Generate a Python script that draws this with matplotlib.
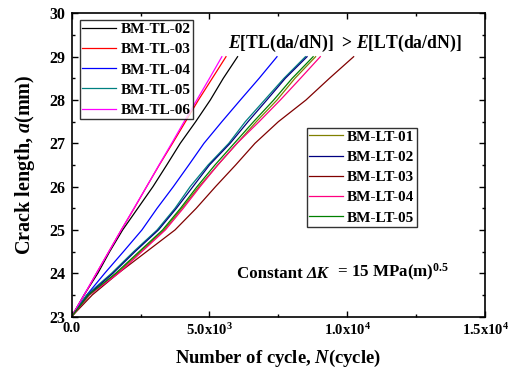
"""
Crack length vs. number of cycles, TL and LT base metal specimens
at constant Delta K.
"""

import matplotlib
matplotlib.use("Agg")
import matplotlib.pyplot as plt
from matplotlib.ticker import MultipleLocator, FixedLocator
from matplotlib.offsetbox import TextArea, HPacker, AnchoredOffsetbox

# ─── Data ──────────────────────────────────────────────────────────────────────

crack_a = [23.0, 23.5, 24.0, 24.5, 25.0, 25.5, 26.0, 26.5, 27.0, 27.5, 28.0, 28.5, 29.0]

# cycles in thousands, one entry per crack_a value
tl_02 = [0, 0.45, 0.95, 1.38, 1.85, 2.40, 2.95, 3.45, 3.94, 4.50, 5.03, 5.50, 6.02]
tl_03 = [0, 0.46, 0.90, 1.35, 1.80, 2.27, 2.72, 3.18, 3.66, 4.13, 4.60, 5.10, 5.60]
tl_04 = [0, 0.55, 1.20, 1.88, 2.55, 3.10, 3.69, 4.25, 4.80, 5.45, 6.12, 6.80, 7.45]
tl_05 = [0, 0.55, 1.45, 2.25, 3.10, 3.75, 4.30, 4.95, 5.70, 6.30, 7.00, 7.70, 8.48]
tl_06 = [0, 0.45, 0.90, 1.35, 1.80, 2.26, 2.72, 3.17, 3.63, 4.08, 4.54, 5.00, 5.45]

lt_01 = [0, 0.65, 1.65, 2.50, 3.35, 4.00, 4.62, 5.30, 6.00, 6.70, 7.45, 8.10, 8.85]
lt_02 = [0, 0.60, 1.50, 2.30, 3.15, 3.80, 4.40, 5.00, 5.75, 6.40, 7.08, 7.75, 8.54]
lt_03 = [0, 0.75, 1.69, 2.72, 3.75, 4.52, 5.22, 5.95, 6.65, 7.50, 8.50, 9.35, 10.23]
lt_04 = [0, 0.65, 1.70, 2.55, 3.40, 4.05, 4.66, 5.30, 6.00, 6.80, 7.57, 8.30, 9.02]
lt_05 = [0, 0.62, 1.60, 2.45, 3.30, 3.95, 4.55, 5.20, 5.90, 6.60, 7.33, 8.00, 8.76]

tl_names = ["BM-TL-02", "BM-TL-03", "BM-TL-04", "BM-TL-05", "BM-TL-06"]
lt_names = ["BM-LT-01", "BM-LT-02", "BM-LT-03", "BM-LT-04", "BM-LT-05"]

x_ticks = [0, 5000, 10000, 15000]
x_tick_labels = ["0.0", "5.0x10$^{3}$", "1.0x10$^{4}$", "1.5x10$^{4}$"]

# ─── Style ─────────────────────────────────────────────────────────────────────

plt.rcParams["font.family"] = ["Liberation Serif", "DejaVu Serif"]
plt.rcParams["font.weight"] = "bold"
plt.rcParams["mathtext.fontset"] = "custom"
plt.rcParams["mathtext.rm"] = "Liberation Serif:bold"
plt.rcParams["mathtext.bf"] = "Liberation Serif:bold"
plt.rcParams["mathtext.it"] = "Liberation Serif:italic:bold"

tl_colors = ["#000000", "#FF0000", "#0000FF", "#008080", "#FF00FF"]
lt_colors = ["#808000", "#000080", "#800000", "#FF0080", "#008000"]

fig = plt.figure(figsize=(5.08, 3.72), dpi=100)
ax = fig.add_axes([0.141, 0.149, 0.814, 0.815])

tl_lines = []
for vals, c in zip([tl_02, tl_03, tl_04, tl_05, tl_06], tl_colors):
    ln, = ax.plot([v * 1000 for v in vals], crack_a, color=c, lw=0.9)
    tl_lines.append(ln)

lt_lines = []
for vals, c in zip([lt_01, lt_02, lt_03, lt_04, lt_05], lt_colors):
    ln, = ax.plot([v * 1000 for v in vals], crack_a, color=c, lw=0.9)
    lt_lines.append(ln)

ax.set_xlim(0, 15000)
ax.set_ylim(23, 30)
ax.xaxis.set_major_locator(FixedLocator(x_ticks))
ax.set_xticklabels(x_tick_labels, fontsize=10.5, fontweight="bold")
ax.xaxis.set_minor_locator(MultipleLocator(2500))
ax.yaxis.set_major_locator(MultipleLocator(1))
ax.yaxis.set_minor_locator(MultipleLocator(0.5))
ax.tick_params(axis="y", labelsize=11.5, pad=4.5)
ax.tick_params(axis="x", pad=4)
ax.tick_params(which="both", direction="in", top=True, right=True, width=1.0)
ax.tick_params(which="major", length=4)
ax.tick_params(which="minor", length=2.5)
ax.tick_params(axis="both", which="both", labeltop=False, labelright=False)
for s in ax.spines.values():
    s.set_linewidth(1.2)

ax.set_xlabel("Number of cycle, $N$(cycle)", fontsize=13.4, fontweight="bold", labelpad=7)
ax.set_ylabel("Crack length, $a$(mm)", fontsize=14.5, fontweight="bold", labelpad=9)

leg_kw = dict(fontsize=11, frameon=True, fancybox=False, edgecolor="black",
              handlelength=2.2, handletextpad=0.3, labelspacing=0.43,
              borderpad=0.15, borderaxespad=0.0)

leg1 = ax.legend(tl_lines, tl_names, loc="upper left", bbox_to_anchor=(0.020, 0.978), **leg_kw)
leg1.get_frame().set_linewidth(1.0)
ax.add_artist(leg1)

leg2 = ax.legend(lt_lines, lt_names, loc="upper left", bbox_to_anchor=(0.5686, 0.623), **leg_kw)
leg2.get_frame().set_linewidth(1.0)

ax.text(0.378, 0.902, "$E$[TL(da/dN)]  > $E$[LT(da/dN)]", transform=ax.transAxes,
        fontsize=12.7, fontweight="bold", ha="left", va="center")

# "Constant ΔK = 15 MPa(m)^0.5" with an italic Delta K, packed piece by piece
tp = dict(fontsize=12.2, fontweight="bold")
pieces = [
    TextArea("Constant ", textprops=tp),
    TextArea("ΔK", textprops=dict(tp, fontstyle="italic")),
    TextArea("  = 15 MPa(m)$^{0.5}$", textprops=tp),
]
packed = HPacker(children=pieces, align="baseline", pad=0, sep=0)
ab = AnchoredOffsetbox(loc="center left", child=packed, pad=0, borderpad=0, frameon=False,
                       bbox_to_anchor=(0.40, 0.144), bbox_transform=ax.transAxes)
ax.add_artist(ab)

fig.savefig("out.png", dpi=100)
